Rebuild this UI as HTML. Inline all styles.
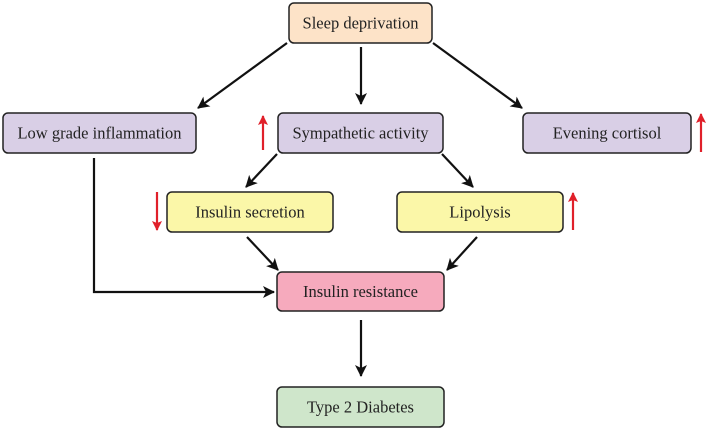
<!DOCTYPE html>
<html><head><meta charset="utf-8"><style>
body{margin:0;background:#fff;}
svg{display:block;}
text{font-family:"Liberation Serif",serif;font-size:16.5px;fill:#222;text-anchor:middle;dominant-baseline:central;}
rect{stroke:#222;stroke-width:1.5;}
</style></head><body>
<svg width="708" height="430" viewBox="0 0 708 430">
<defs>
<marker id="a" markerWidth="13" markerHeight="12" refX="11" refY="6" orient="auto" markerUnits="userSpaceOnUse"><path d="M0,0 L12,6 L0,12 L3,6 Z" fill="#111"/></marker>
<marker id="r" markerWidth="10" markerHeight="10" refX="9" refY="5" orient="auto" markerUnits="userSpaceOnUse"><path d="M0,0 L10,5 L0,10 L2,5 Z" fill="#e0202a"/></marker>
</defs>
<rect x="289" y="3" width="143" height="40" rx="5" fill="#fde3c8"/>
<text x="360.5" y="23">Sleep deprivation</text>
<rect x="3" y="113" width="193" height="40" rx="5" fill="#d9cfe6"/>
<text x="99.5" y="133">Low grade inflammation</text>
<rect x="278" y="113" width="165" height="40" rx="5" fill="#d9cfe6"/>
<text x="360.5" y="133">Sympathetic activity</text>
<rect x="523" y="113" width="168" height="40" rx="5" fill="#d9cfe6"/>
<text x="607" y="133">Evening cortisol</text>
<rect x="167" y="192" width="166" height="40" rx="5" fill="#fbf7a8"/>
<text x="250" y="212">Insulin secretion</text>
<rect x="397" y="192" width="166" height="40" rx="5" fill="#fbf7a8"/>
<text x="480" y="212">Lipolysis</text>
<rect x="277" y="272" width="167" height="39" rx="5" fill="#f6aabd"/>
<text x="360.5" y="291.5">Insulin resistance</text>
<rect x="277" y="387" width="167" height="40" rx="5" fill="#cfe6cb"/>
<text x="360.5" y="407">Type 2 Diabetes</text>
<g stroke="#111" stroke-width="2.2" fill="none" marker-end="url(#a)">
<line x1="287" y1="43" x2="198" y2="108"/>
<line x1="361" y1="47" x2="361" y2="104"/>
<line x1="433" y1="43" x2="522" y2="108"/>
<line x1="277" y1="154" x2="246" y2="187"/>
<line x1="442" y1="154" x2="473" y2="187"/>
<line x1="247" y1="237" x2="278" y2="270"/>
<line x1="477" y1="237" x2="447" y2="270"/>
<polyline points="94,158 94,292 274,292"/>
<line x1="361" y1="320" x2="361" y2="376"/>
</g>
<g stroke="#e0202a" stroke-width="2.2" fill="none" marker-end="url(#r)">
<line x1="263" y1="150" x2="263" y2="116"/>
<line x1="701" y1="152" x2="701" y2="114"/>
<line x1="157" y1="192" x2="157" y2="230"/>
<line x1="573" y1="230" x2="573" y2="193"/>
</g>
</svg>
</body></html>
